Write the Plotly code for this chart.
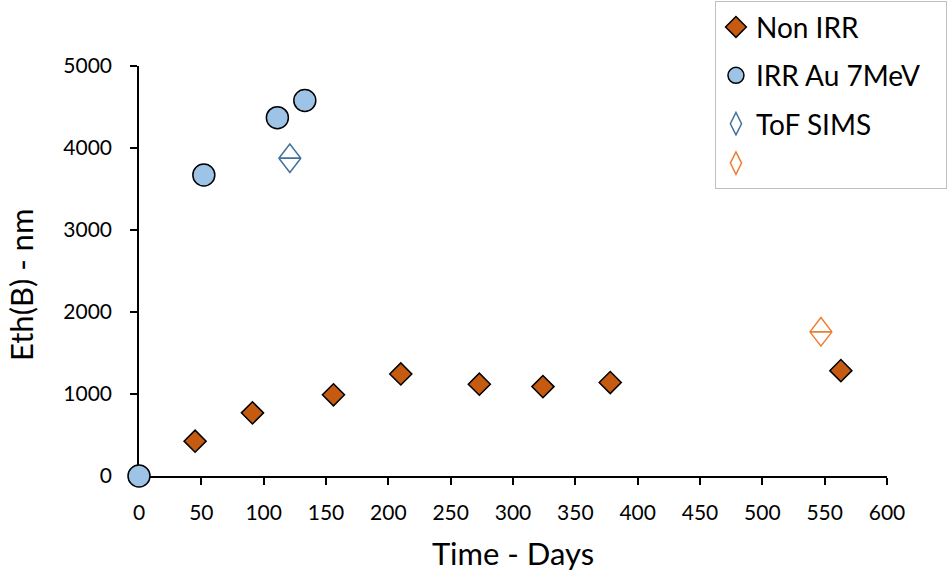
import plotly.graph_objects as go

# Data
non_irr_days = [45, 91, 156, 210, 273, 324, 378, 563]
non_irr_eth = [425, 770, 990, 1245, 1120, 1090, 1140, 1285]

irr_days = [0, 52, 111, 133]
irr_eth = [0, 3670, 4370, 4580]

tof_blue_days = [121]
tof_blue_eth = [3875]
tof_orange_days = [547]
tof_orange_eth = [1758]

x_ticks = list(range(0, 601, 50))
y_ticks = list(range(0, 5001, 1000))

FONT = "Lato"
TOF_SIZE = 19
TOF_STANDOFF = TOF_SIZE / 4
NBSP = "\u00a0"


def tof_traces(xs, ys, color, name):
    """ToF SIMS marker: open diamond split by a horizontal line (two triangles)."""
    out = []
    for ang in (0, 180):
        out.append(go.Scatter(
            x=xs, y=ys, mode="markers", showlegend=False, hoverinfo="skip",
            marker=dict(symbol="triangle-down-open", size=TOF_SIZE, angle=ang,
                        standoff=TOF_STANDOFF, color=color,
                        line=dict(color=color, width=1.5)),
            cliponaxis=False, legendgroup="tof",
        ))
    # legend proxy
    out.append(go.Scatter(
        x=[None], y=[None], mode="markers", name=name, legendgroup="tof",
        marker=dict(symbol="diamond-tall-open", size=16, color=color,
                    line=dict(color=color, width=1.5)),
    ))
    return out


fig = go.Figure()

fig.add_trace(go.Scatter(
    x=non_irr_days, y=non_irr_eth, mode="markers", name="Non IRR",
    marker=dict(symbol="diamond", size=17, color="#C55A11",
                line=dict(color="black", width=1.5)),
    cliponaxis=False, legendgroup="a",
))
fig.add_trace(go.Scatter(
    x=irr_days, y=irr_eth, mode="markers", name="IRR Au 7MeV" + NBSP * 3,
    marker=dict(symbol="circle", size=22, color="#9DC3E6",
                line=dict(color="black", width=1.5)),
    cliponaxis=False, legendgroup="b",
))
for tr in tof_traces(tof_blue_days, tof_blue_eth, "#41719C", "ToF SIMS"):
    fig.add_trace(tr)
for tr in tof_traces(tof_orange_days, tof_orange_eth, "#ED7D31", " "):
    fig.add_trace(tr)

fig.update_layout(
    width=950, height=573,
    margin=dict(l=139, r=63, t=66, b=97, autoexpand=False),
    paper_bgcolor="white", plot_bgcolor="white",
    font=dict(family=FONT, size=21, color="black"),
    legend=dict(
        x=0.77, y=1.158, xanchor="left", yanchor="top",
        bordercolor="#BFBFBF", borderwidth=1, bgcolor="white",
        font=dict(family=FONT, size=28, color="black"),
        tracegroupgap=9,
    ),
    showlegend=True,
    annotations=[dict(
        text="Eth(B) - nm", textangle=-90, xref="paper", yref="paper",
        x=(21 - 139) / 748, y=(476 - 285) / 410, xanchor="center", yanchor="middle",
        showarrow=False, font=dict(family=FONT, size=31, color="black"),
    )],
)

fig.update_xaxes(
    range=[0, 600], tickvals=x_ticks, ticktext=[str(v) for v in x_ticks],
    showgrid=False, zeroline=False, showline=True, linecolor="black", linewidth=1.5,
    ticks="outside", ticklen=7, tickwidth=1.5, tickcolor="black",
    ticklabelstandoff=10, layer="below traces",
    title=dict(text="Time - Days", font=dict(family=FONT, size=31), standoff=20),
    tickfont=dict(family=FONT, size=21),
)
fig.update_yaxes(
    range=[0, 5000], tickvals=y_ticks, ticktext=[str(v) for v in y_ticks],
    showgrid=False, zeroline=False, showline=True, linecolor="black", linewidth=1.5,
    ticks="outside", ticklen=7, tickwidth=1.5, tickcolor="black",
    ticklabelstandoff=14, layer="below traces",
    tickfont=dict(family=FONT, size=21),
)

fig.write_html("out.html", config={"displayModeBar": False},
               post_script="document.body.style.margin='0px';")
